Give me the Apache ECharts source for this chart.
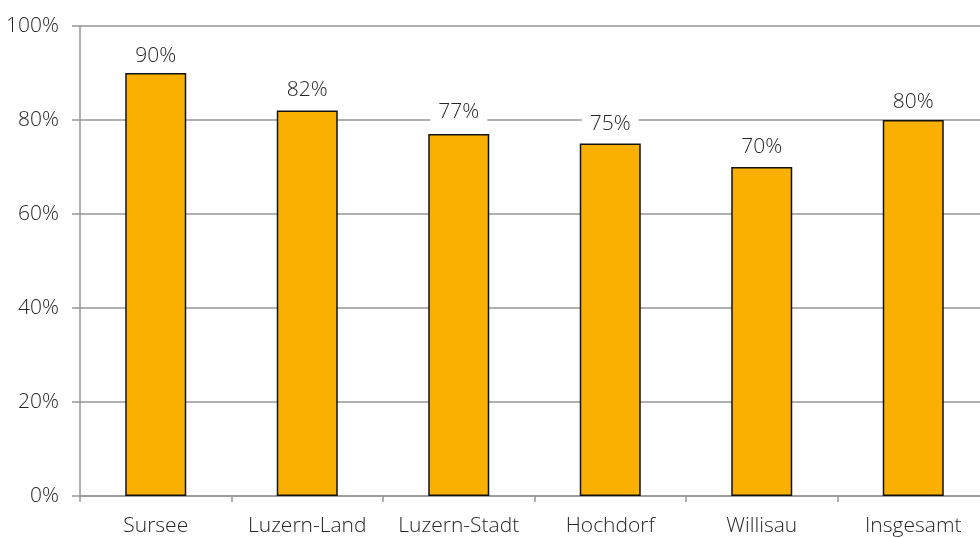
<!DOCTYPE html>
<html>
<head>
<meta charset="utf-8">
<script src="https://cdn.jsdelivr.net/npm/echarts@6/dist/echarts.min.js"></script>
<style>
  html, body { margin: 0; padding: 0; background: #fff; overflow: hidden; }
  /* plot runs slightly past the right edge of the window */
  #chart { width: 989px; height: 538px; }
</style>
</head>
<body>
<div id="chart"></div>
<script>
// Regions and their shares
const regions = ['Sursee', 'Luzern-Land', 'Luzern-Stadt', 'Hochdorf', 'Willisau', 'Insgesamt'];
const shares = [0.90, 0.82, 0.77, 0.75, 0.70, 0.80];
const yTicks = [0, 0.2, 0.4, 0.6, 0.8, 1.0];

const FONT = '"Open Sans"';
const TEXT = '#262626';
const GRID = '#969696';

// gap (px) between each value label and its bar
const labelGaps = [6, 10, 12, 9, 9, 7];

const chart = echarts.init(document.getElementById('chart'), null, { renderer: 'canvas' });

chart.setOption({
  animation: false,
  grid: { left: 80, right: 0, top: 26, bottom: 42, containLabel: false },
  xAxis: {
    type: 'category',
    data: regions,
    axisLine: { show: true, lineStyle: { color: GRID, width: 1.5 } },
    axisTick: { show: true, interval: 0, length: 6, lineStyle: { color: GRID, width: 1.5 } },
    axisLabel: { interval: 0, hideOverlap: false, color: TEXT, fontFamily: FONT, fontWeight: 300, fontSize: 21, margin: 20 },
    splitLine: { show: false }
  },
  yAxis: {
    type: 'value',
    min: yTicks[0],
    max: yTicks[yTicks.length - 1],
    interval: 0.2,
    axisLine: { show: true, lineStyle: { color: GRID, width: 1.5 } },
    axisTick: { show: true, length: 8, lineStyle: { color: GRID, width: 1.5 } },
    axisLabel: {
      color: TEXT, fontFamily: FONT, fontWeight: 300, fontSize: 21, margin: 21,
      formatter: v => Math.round(v * 100) + '%'
    },
    splitLine: { show: true, lineStyle: { color: GRID, width: 1.5 } }
  },
  series: [{
    type: 'bar',
    data: shares.map((v, i) => ({ value: v, label: { distance: labelGaps[i] } })),
    barWidth: 61,
    itemStyle: { color: '#F9B000', borderColor: '#111', borderWidth: 1.5 },
    label: {
      show: true,
      position: 'top',
      color: TEXT,
      fontFamily: FONT,
      fontWeight: 300,
      fontSize: 21,
      backgroundColor: '#fff',
      padding: [0, 8],
      formatter: p => Math.round(p.value * 100) + '%'
    }
  }]
});
</script>
</body>
</html>
